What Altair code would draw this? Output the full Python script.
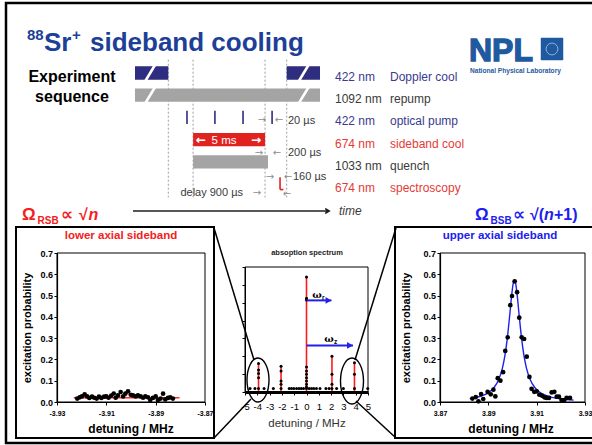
import altair as alt
import pandas as pd

W, H = 592, 445
SANS = "Liberation Sans, Arial, Helvetica, DejaVu Sans, sans-serif"

TITLE_BLUE = "#1d3f97"
NPL_BLUE = "#1f5aa0"
NAVY = "#2e2d80"
NAVY_TXT = "#3b3a8f"
GREY_BAR = "#a4a4a4"
RED_BAR = "#e1231f"
RED_TXT = "#e43b36"
DARK_TXT = "#3a3a3a"
ARROW_GREY = "#8d8d8d"
RED = "#f42020"
BLUE = "#2020ee"

# ---------------- data ----------------
# experiment sequence (schematic time units, rows from top)
seq_nm = ["422 nm", "1092 nm", "422 nm", "674 nm", "1033 nm", "674 nm"]
seq_name = ["Doppler cool", "repump", "optical pump", "sideband cool", "quench", "spectroscopy"]
seq_row = [0, 1, 2, 3, 4, 5]
seg_row = [0, 0, 1, 3, 4]
seg_laser = ["422 nm", "422 nm", "1092 nm", "674 nm", "1033 nm"]
seg_start = [0, 82, 0, 31.4, 31.4]
seg_end = [18, 100, 100, 70.3, 71.9]
pump_t = [28.1, 43.2, 58.4, 74.1]
probe_t = [78.4]
marker_t = [18, 31.4, 70.3, 82]

# lower axial sideband (red sideband)
rsb_x = [-3.9218, -3.9208, -3.9199, -3.9188, -3.9178, -3.9169, -3.9158, -3.9149, -3.9139, -3.9130,
         -3.9120, -3.9109, -3.9100, -3.9091, -3.9080, -3.9070, -3.9062, -3.9053, -3.9042, -3.9032,
         -3.9023, -3.9012, -3.9001, -3.8992, -3.8981, -3.8972, -3.8961, -3.8951, -3.8942, -3.8931,
         -3.8922, -3.8911, -3.8900, -3.8891, -3.8880, -3.8870, -3.8861, -3.8850, -3.8841, -3.8830]
rsb_y = [0.016, 0.022, 0.026, 0.036, 0.026, 0.019, 0.025, 0.020, 0.016, 0.025,
         0.019, 0.025, 0.026, 0.020, 0.030, 0.040, 0.020, 0.031, 0.047, 0.026,
         0.039, 0.050, 0.034, 0.031, 0.026, 0.031, 0.026, 0.020, 0.026, 0.022,
         0.009, 0.019, 0.026, 0.009, 0.016, 0.039, 0.012, 0.019, 0.022, 0.016]
rsb_fit_x = [-3.9232, -3.8803]
rsb_fit_y = [0.020, 0.020]

# upper axial sideband (blue sideband)
bsb_x = [3.8834, 3.8848, 3.8859, 3.8870, 3.8879, 3.8897, 3.8910, 3.8921, 3.8929, 3.8939,
         3.8950, 3.8961, 3.8970, 3.8980, 3.8991, 3.8998, 3.9009, 3.9019, 3.9028, 3.9038,
         3.9048, 3.9059, 3.9070, 3.9079, 3.9090, 3.9100, 3.9111, 3.9121, 3.9132, 3.9141,
         3.9151, 3.9162, 3.9173, 3.9183, 3.9192, 3.9203, 3.9214, 3.9224, 3.9238]
bsb_y = [0.016, 0.023, 0.003, 0.037, 0.014, 0.048, 0.036, 0.058, 0.026, 0.112,
         0.100, 0.140, 0.240, 0.304, 0.455, 0.498, 0.567, 0.516, 0.396, 0.304,
         0.296, 0.213, 0.118, 0.062, 0.048, 0.050, 0.034, 0.030, 0.022, 0.019,
         0.019, 0.045, 0.048, 0.025, 0.025, 0.009, 0.009, 0.019, 0.019]
bsb_fit_x = [3.8823, 3.8853, 3.8883, 3.8903, 3.8923, 3.8943, 3.8958, 3.8968, 3.8978, 3.8988,
             3.8998, 3.9003, 3.9008, 3.9013, 3.9018, 3.9028, 3.9038, 3.9048, 3.9058, 3.9073,
             3.9093, 3.9113, 3.9133, 3.9163, 3.9203, 3.9253]
bsb_fit_y = [0.016, 0.022, 0.033, 0.046, 0.067, 0.106, 0.158, 0.214, 0.294, 0.402,
             0.516, 0.557, 0.570, 0.557, 0.516, 0.402, 0.294, 0.214, 0.158, 0.106,
             0.067, 0.046, 0.033, 0.022, 0.014, 0.009]

# absorption spectrum
stem_x = [-3.9, -2.07, 0.0, 2.07, 3.9]
stem_top = [0.159, 0.144, 0.644, 0.200, 0.164]
spec_x = [-3.9, -3.9, -3.9, -3.9, -3.9,
          -2.07, -2.07, -2.07, -2.07, -2.07,
          0.0, 0.0, 0.0, 0.0, 0.0, 0.0, 0.0, 0.0, 0.0, 0.0, 0.0,
          2.07, 2.07, 2.07, 2.07,
          3.9, 3.9, 3.9,
          -4.59, -4.19, -3.45, -2.70, -1.41, -1.22, -1.03, -0.81, -0.61, -0.42, -0.24,
          0.22, 0.41, 0.59, 0.81, 1.10, 1.58, 1.84, 2.45, 3.00, 4.98]
spec_y = [0.159, 0.123, 0.103, 0.080, 0.020,
          0.144, 0.118, 0.062, 0.043, 0.020,
          0.644, 0.525, 0.515, 0.140, 0.118, 0.100, 0.080, 0.062, 0.043, 0.028, 0.020,
          0.200, 0.100, 0.043, 0.020,
          0.164, 0.100, 0.020,
          0.020, 0.020, 0.020, 0.020, 0.020, 0.020, 0.020, 0.020, 0.020, 0.020, 0.020,
          0.020, 0.020, 0.020, 0.020, 0.020, 0.020, 0.020, 0.020, 0.020, 0.020]
omega_end = [2.03, 3.78]
omega_y = [0.513, 0.261]

# ---------------- helpers ----------------
ONE = alt.InlineData(values=[{"k": 0}])


def txt(s, x, y, size, color="black", weight="normal", align="left",
        baseline="middle", style="normal", angle=0, font=SANS, **extra):
    kw = dict(text=s, fontSize=size, color=color, fontWeight=weight, align=align,
              baseline=baseline, fontStyle=style, font=font)
    if angle:
        kw["angle"] = angle
    kw.update(extra)
    return alt.Chart(ONE).mark_text(**kw).encode(x=alt.value(x), y=alt.value(y))


def rule(x1, y1, x2, y2, color="black", width=1.0, dash=None):
    kw = dict(color=color, strokeWidth=width)
    if dash:
        kw["strokeDash"] = dash
    return alt.Chart(ONE).mark_rule(**kw).encode(
        x=alt.value(x1), y=alt.value(y1), x2=alt.value(x2), y2=alt.value(y2))


def box(x1, y1, x2, y2, stroke="black", width=2.0, fill=None):
    kw = dict(stroke=stroke, strokeWidth=width)
    if fill:
        kw["fill"] = fill
    else:
        kw["fillOpacity"] = 0
    return alt.Chart(ONE).mark_rect(**kw).encode(
        x=alt.value(x1), y=alt.value(y1), x2=alt.value(x2), y2=alt.value(y2))


def head(x, y, color, size=40, shape="triangle-right"):
    return alt.Chart(ONE).mark_point(shape=shape, filled=True, color=color, size=size,
                                     opacity=1).encode(x=alt.value(x), y=alt.value(y))


ELLIPSE = "M -0.5 0 A 0.5 1 0 1 1 0.5 0 A 0.5 1 0 1 1 -0.5 0 Z"


def ellipse(x, y, h):
    return alt.Chart(ONE).mark_point(shape=ELLIPSE, filled=False, color="black",
                                     strokeWidth=1.4, size=h * h, opacity=1).encode(
        x=alt.value(x), y=alt.value(y))


layers = []

# ---------------- slide frame & heading ----------------
layers.append(box(6, 3, 600, 443, width=2.5))
layers += [
    txt("88", 27, 40, 15, TITLE_BLUE, "bold", baseline="alphabetic"),
    txt("Sr", 44, 51, 26, TITLE_BLUE, "bold", baseline="alphabetic"),
    txt("+", 72, 40, 15, TITLE_BLUE, "bold", baseline="alphabetic"),
    txt("sideband cooling", 90, 51, 26, TITLE_BLUE, "bold", baseline="alphabetic"),
    txt("Experiment", 72, 77, 16, "black", "bold", align="center"),
    txt("sequence", 72, 97, 16, "black", "bold", align="center"),
]
# NPL logo
layers += [
    txt("NPL", 469, 60.5, 32, NPL_BLUE, "bold", baseline="alphabetic", stroke=NPL_BLUE, strokeWidth=1.3),
    box(541, 38, 563, 60, stroke=NPL_BLUE, width=0.5, fill=NPL_BLUE),
    alt.Chart(ONE).mark_point(shape="circle", filled=False, color="#a9c2e3", size=140,
                              strokeWidth=0.8, opacity=1).encode(x=alt.value(552), y=alt.value(49)),
    txt("National Physical Laboratory", 470, 71, 6.6, NPL_BLUE, "bold"),
]

# ---------------- experiment sequence ----------------
xT = alt.Scale(domain=[0, 100], range=[135, 320], nice=False, zero=False)
yT = alt.Scale(domain=[0, 5], range=[73, 184], nice=False, zero=False)
LASERS = ["422 nm", "1092 nm", "674 nm", "1033 nm"]

marker_df = pd.DataFrame({"t": marker_t})
layers.append(
    alt.Chart(marker_df).transform_calculate(a="-0.6", b="5.6")
    .mark_rule(color="#9d9d9d", strokeDash=[2, 2], strokeWidth=1)
    .encode(x=alt.X("t:Q", scale=xT, axis=None), y=alt.Y("a:Q", scale=yT, axis=None), y2="b:Q")
)
seg_df = pd.DataFrame({"row": seg_row, "start": seg_start, "end": seg_end, "laser": seg_laser})
layers.append(
    alt.Chart(seg_df).transform_calculate(top="datum.row - 0.3", bot="datum.row + 0.3")
    .mark_rect()
    .encode(x=alt.X("start:Q", scale=xT, axis=None), x2="end:Q",
            y=alt.Y("top:Q", scale=yT, axis=None), y2="bot:Q",
            color=alt.Color("laser:N", legend=None,
                            scale=alt.Scale(domain=LASERS, range=[NAVY, GREY_BAR, RED_BAR, GREY_BAR])))
)
# white time-break slashes in the long bars
for r in (0, 1):
    for a, b in ((5.6, 10.8), (88.6, 93.8)):
        layers.append(
            alt.Chart(ONE).mark_rule(color="white", strokeWidth=2.6).encode(
                x=alt.X(datum=a, type="quantitative", scale=xT, axis=None),
                x2=alt.X2(datum=b),
                y=alt.Y(datum=r + 0.36, type="quantitative", scale=yT, axis=None),
                y2=alt.Y2(datum=r - 0.36)))
pump_df = pd.DataFrame({"t": pump_t})
layers.append(
    alt.Chart(pump_df).transform_calculate(a="1.7", b="2.3")
    .mark_rule(color=NAVY, strokeWidth=1.6)
    .encode(x=alt.X("t:Q", scale=xT, axis=None), y=alt.Y("a:Q", scale=yT, axis=None), y2="b:Q")
)
probe_df = pd.DataFrame({"t": probe_t})
layers.append(
    alt.Chart(probe_df).transform_calculate(a="4.7", b="5.25")
    .mark_rule(color=RED_BAR, strokeWidth=1.6)
    .encode(x=alt.X("t:Q", scale=xT, axis=None), y=alt.Y("a:Q", scale=yT, axis=None), y2="b:Q")
)
layers.append(
    alt.Chart(probe_df).transform_calculate(t2="datum.t + 1.8", b="5.25")
    .mark_rule(color=RED_BAR, strokeWidth=1.6)
    .encode(x=alt.X("t:Q", scale=xT, axis=None), x2="t2:Q", y=alt.Y("b:Q", scale=yT, axis=None))
)
lab_df = pd.DataFrame({"row": seq_row, "nm": seq_nm, "name": seq_name})
lab_scale = alt.Scale(domain=LASERS, range=[NAVY_TXT, DARK_TXT, RED_TXT, DARK_TXT])
layers.append(
    alt.Chart(lab_df).mark_text(align="left", baseline="middle", fontSize=12, font=SANS, dy=4)
    .encode(x=alt.value(335), y=alt.Y("row:Q", scale=yT, axis=None), text="nm:N",
            color=alt.Color("nm:N", scale=lab_scale, legend=None))
)
layers.append(
    alt.Chart(lab_df).mark_text(align="left", baseline="middle", fontSize=12, font=SANS, dy=4)
    .encode(x=alt.value(390), y=alt.Y("row:Q", scale=yT, axis=None), text="name:N",
            color=alt.Color("nm:N", scale=lab_scale, legend=None))
)
# timing annotations
AR = "DejaVu Sans"
layers += [
    txt("\u2190", 201, 140, 12, "white", "bold", align="center", font=AR),
    txt("5 ms", 224, 141, 11.5, "white", align="center"),
    txt("\u2192", 256, 140, 12, "white", "bold", align="center", font=AR),
    txt("\u2192", 262, 120, 10, ARROW_GREY, align="center", font=AR),
    txt("\u2190", 279, 120, 10, ARROW_GREY, align="center", font=AR),
    txt("20 \u00b5s", 288, 121, 11, DARK_TXT),
    txt("\u2192", 259, 153, 10, ARROW_GREY, align="center", font=AR),
    txt("\u2190", 277, 153, 10, ARROW_GREY, align="center", font=AR),
    txt("200 \u00b5s", 288, 153, 11, DARK_TXT),
    txt("\u2192", 270, 177, 10, ARROW_GREY, align="center", font=AR),
    txt("\u2190", 288, 177, 10, ARROW_GREY, align="center", font=AR),
    txt("160 \u00b5s", 293, 177, 11, DARK_TXT),
    txt("delay 900 \u00b5s", 243, 193, 11, DARK_TXT, align="right"),
    txt("\u2192", 257, 193, 10, ARROW_GREY, align="center", font=AR),
    txt("\u2190", 287, 194, 10, ARROW_GREY, align="center", font=AR),
    rule(133, 211, 325, 211, "#1e1e1e", 1.5),
    head(328, 211, "#1e1e1e", 40),
    txt("time", 339, 211, 12, DARK_TXT, style="italic"),
]

# ---------------- Omega labels ----------------
layers += [
    txt("\u03a9", 22, 220, 17, RED, "bold", baseline="alphabetic"),
    txt("RSB", 37.5, 224, 10, RED, "bold", baseline="alphabetic"),
    txt("\u221d", 61, 220, 17, RED, "bold", baseline="alphabetic"),
    txt("\u221a", 79, 220, 16, RED, "bold", baseline="alphabetic"),
    txt("n", 88.5, 220, 16, RED, "bold", baseline="alphabetic", style="italic"),
    txt("\u03a9", 475, 220, 17, BLUE, "bold", baseline="alphabetic"),
    txt("BSB", 490.5, 224, 10, BLUE, "bold", baseline="alphabetic"),
    txt("\u221d", 513, 220, 17, BLUE, "bold", baseline="alphabetic"),
    txt("\u221a(", 530, 220, 16, BLUE, "bold", baseline="alphabetic"),
    txt("n", 544, 220, 16, BLUE, "bold", baseline="alphabetic", style="italic"),
    txt("+1)", 554, 220, 16, BLUE, "bold", baseline="alphabetic"),
]

# ---------------- side panels ----------------
YV = [0, 0.1, 0.2, 0.3, 0.4, 0.5, 0.6, 0.7]


def side_panel(xdom, xrng, xvals, pts_df, fit_df, fit_color, title, title_color, box_x, title_x,
               ytitle_x, xtitle_x, fit_interp):
    xs = alt.Scale(domain=xdom, range=xrng, nice=False, zero=False)
    ys = alt.Scale(domain=[0, 0.7], range=[402, 253], nice=False, zero=False)
    out = [box(box_x[0], 227, box_x[1], 438, width=2.0),
           txt(title, title_x, 236, 11.5, title_color, "bold", align="center")]
    out.append(
        alt.Chart(ONE).mark_rect(fillOpacity=0, stroke="black", strokeWidth=1).encode(
            x=alt.X(datum=xdom[0], type="quantitative", scale=xs, axis=None), x2=alt.X2(datum=xdom[1]),
            y=alt.Y(datum=0, type="quantitative", scale=ys, axis=None), y2=alt.Y2(datum=0.7)))
    out.append(
        alt.Chart(fit_df).mark_line(color=fit_color, strokeWidth=1.4, interpolate=fit_interp).encode(
            x=alt.X("x:Q", scale=xs, axis=None), y=alt.Y("y:Q", scale=ys, axis=None)))
    out.append(
        alt.Chart(pts_df).mark_circle(size=22, color="black", opacity=1).encode(
            x=alt.X("x:Q", scale=xs, axis=alt.Axis(
                orient="bottom", offset=402 - H, values=xvals, title=None, grid=False, zindex=1,
                labelExpr="(datum.value < 0 ? '-' : '') + format(abs(datum.value), '.2f')",
                labelFont=SANS, labelFontSize=7, labelFontWeight="bold", labelColor="black",
                labelFlush=False, labelOverlap=False, labelPadding=4, tickSize=3,
                tickColor="black", domainColor="black", domainWidth=1.2)),
            y=alt.Y("y:Q", scale=ys, axis=alt.Axis(
                orient="left", offset=-xrng[0], values=YV, format=".1f", title=None, grid=False,
                zindex=1, labelFont=SANS, labelFontSize=9, labelFontWeight="bold",
                labelColor="black", labelOverlap=False, labelPadding=1.5, tickSize=3,
                tickColor="black", domainColor="black", domainWidth=1.2))))
    out += [txt("excitation probability", ytitle_x, 328, 11, "black", "bold", align="center", angle=270),
            txt("detuning / MHz", xtitle_x, 429, 12, "black", "bold", align="center")]
    return out


layers += side_panel([-3.93, -3.87], [57, 205], [-3.93, -3.91, -3.89, -3.87],
                     pd.DataFrame({"x": rsb_x, "y": rsb_y}),
                     pd.DataFrame({"x": rsb_fit_x, "y": rsb_fit_y}), "#ff2a2a",
                     "lower axial sideband", RED, (16, 214), 121, 28, 131, "linear")
layers += side_panel([3.87, 3.93], [440, 585], [3.87, 3.89, 3.91, 3.93],
                     pd.DataFrame({"x": bsb_x, "y": bsb_y}),
                     pd.DataFrame({"x": bsb_fit_x, "y": bsb_fit_y}), BLUE,
                     "upper axial sideband", BLUE, (395, 600), 500, 407, 511, "monotone")

# ---------------- centre spectrum ----------------
xC = alt.Scale(domain=[-5, 5], range=[245, 368], nice=False, zero=False)
yC = alt.Scale(domain=[0, 0.7], range=[392, 267], nice=False, zero=False)
layers += [
    txt("absoption spectrum", 307, 253, 7.5, "#222222", "bold", align="center"),
    alt.Chart(ONE).mark_rect(fillOpacity=0, stroke="black", strokeWidth=1).encode(
        x=alt.X(datum=-5, type="quantitative", scale=xC, axis=None), x2=alt.X2(datum=5),
        y=alt.Y(datum=0, type="quantitative", scale=yC, axis=None), y2=alt.Y2(datum=0.7)),
    alt.Chart(pd.DataFrame({"x": stem_x, "top": stem_top})).transform_calculate(base="0")
    .mark_rule(color="#ff1a1a", strokeWidth=1.6)
    .encode(x=alt.X("x:Q", scale=xC, axis=None), y=alt.Y("base:Q", scale=yC, axis=None), y2="top:Q"),
    alt.Chart(pd.DataFrame({"x": spec_x, "y": spec_y})).mark_circle(size=9, color="black", opacity=1)
    .encode(
        x=alt.X("x:Q", scale=xC, axis=alt.Axis(
            orient="bottom", offset=392 - H, values=list(range(-5, 6)), title=None, grid=False,
            zindex=1,
            labelExpr="(datum.value < 0 ? '-' : '') + format(abs(datum.value), 'd')",
            labelFont=SANS, labelFontSize=9.5, labelColor="black", labelFlush=False,
            labelOverlap=False, labelPadding=6, tickSize=3, tickColor="black",
            domainColor="black", domainWidth=3)),
        y=alt.Y("y:Q", scale=yC, axis=alt.Axis(
            orient="left", offset=-245, values=YV, labels=False, title=None, grid=False,
            zindex=1, tickSize=3, tickColor="black", domainColor="black", domainWidth=1))),
    txt("detuning / MHz", 307, 424, 11.5, "#333333", align="center"),
]
om_df = pd.DataFrame({"end": omega_end, "y": omega_y})
layers += [
    alt.Chart(om_df).transform_calculate(start="0")
    .mark_rule(color=BLUE, strokeWidth=2)
    .encode(x=alt.X("start:Q", scale=xC, axis=None), x2="end:Q", y=alt.Y("y:Q", scale=yC, axis=None)),
    alt.Chart(om_df).mark_point(shape="triangle-right", filled=True, color=BLUE, size=45, opacity=1, xOffset=-3)
    .encode(x=alt.X("end:Q", scale=xC, axis=None), y=alt.Y("y:Q", scale=yC, axis=None)),
    txt("\u03c9", 317, 295, 10, "black", "bold", align="center", font="DejaVu Serif"),
    txt("r", 322, 298, 6.5, "black", "bold"),
    txt("\u03c9", 329, 339, 10, "black", "bold", align="center", font="DejaVu Serif"),
    txt("z", 334, 342, 6.5, "black", "bold"),
]
# zoom ellipses and connectors
layers += [
    ellipse(258, 380, 44),
    ellipse(352, 381, 46),
    rule(214, 228, 254, 360, "black", 1.5),
    rule(214, 438, 251, 399, "black", 1.5),
    rule(396, 228, 355, 360, "black", 1.5),
    rule(396, 438, 356, 401, "black", 1.5),
]

chart = (
    alt.layer(*layers)
    .resolve_scale(x="independent", y="independent", color="independent")
    .properties(width=W, height=H, autosize=alt.AutoSizeParams(type="none"), padding=0,
                background="white")
    .configure_view(strokeWidth=0)
)
chart.save("out.html", embed_options={"renderer": "svg", "actions": False})
